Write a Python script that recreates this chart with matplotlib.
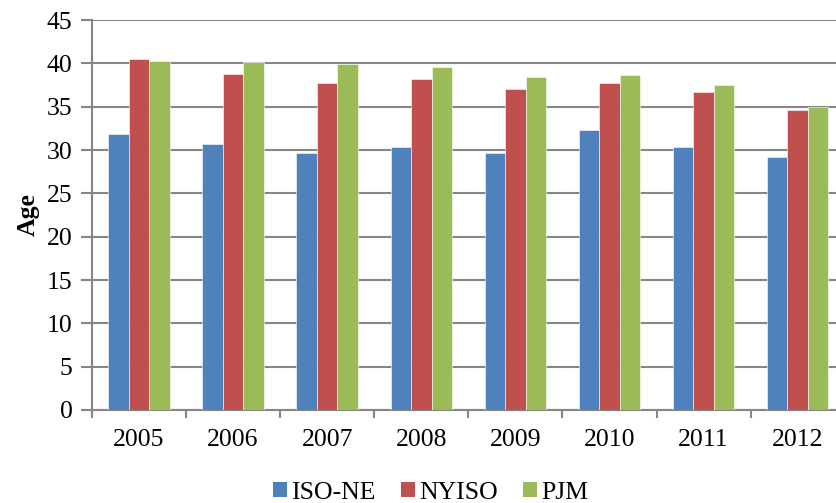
import numpy as np
import matplotlib.pyplot as plt
from matplotlib.patches import Patch

# Average age by market and year
years = ["2005", "2006", "2007", "2008", "2009", "2010", "2011", "2012"]
iso_ne = [31.8, 30.7, 29.7, 30.4, 29.6, 32.3, 30.3, 29.2]
nyiso = [40.5, 38.8, 37.7, 38.2, 37.0, 37.7, 36.7, 34.6]
pjm = [40.3, 40.2, 39.9, 39.6, 38.4, 38.6, 37.5, 35.0]

series = [("ISO-NE", iso_ne, "#4F81BD"),
          ("NYISO", nyiso, "#C0504D"),
          ("PJM", pjm, "#9BBB59")]

plt.rcParams["font.family"] = ["Liberation Serif", "DejaVu Serif"]
grid_col = "#868686"

fig = plt.figure(figsize=(8.36, 5.03), dpi=100)
ax = fig.add_axes([0.110, 0.1849, 0.9005, 0.7753])

x = np.arange(len(years))
w = 0.218
for i, (name, vals, col) in enumerate(series):
    ax.bar(x + (i - 1) * w, vals, width=w, color=col, edgecolor="white",
           linewidth=0.4, zorder=3, label=name)

ax.set_xlim(-0.5, len(years) - 0.5)
ax.set_ylim(0, 45)
ax.set_yticks(np.arange(0, 46, 5))
ax.yaxis.grid(True, color=grid_col, linewidth=1.5, zorder=0)

# category labels centred, tick marks on category boundaries
ax.set_xticks(x)
ax.set_xticklabels(years, fontsize=18.5)
ax.set_xticks(np.arange(-0.5, len(years)), minor=True)
ax.tick_params(axis="x", which="major", length=0, pad=14)
ax.tick_params(axis="x", which="minor", length=6, width=1.5, color=grid_col)
ax.tick_params(axis="y", length=8, width=1.5, color=grid_col, labelsize=18.5, pad=6)

for s in ["top", "right"]:
    ax.spines[s].set_visible(False)
for s in ["left", "bottom"]:
    ax.spines[s].set_color(grid_col)
    ax.spines[s].set_linewidth(1.5)

ax.set_ylabel("Age", fontsize=18.5, fontweight="bold", labelpad=5)

handles = [Patch(facecolor=c, edgecolor="none") for _, _, c in series]
fig.legend(handles, [n for n, _, _ in series], loc="lower center",
           bbox_to_anchor=(0.515, -0.047), ncol=3, frameon=False,
           fontsize=18.5, handlelength=0.55, handleheight=0.55,
           handletextpad=0.15, columnspacing=1.0)

fig.savefig("out.png", dpi=100)
